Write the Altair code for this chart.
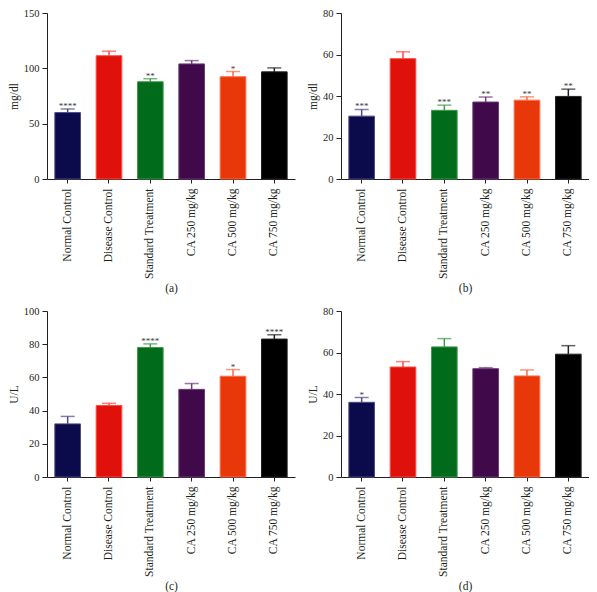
import altair as alt
import pandas as pd

categories = ["Normal Control", "Disease Control", "Standard Treatment",
              "CA 250 mg/kg", "CA 500 mg/kg", "CA 750 mg/kg"]
bar_colors = ["#0b0b4b", "#e0100a", "#006b1a", "#400a4a", "#e8380a", "#000000"]
edge_colors = ["#4a4a86", "#ff4a40", "#3f9a4a", "#6a3a78", "#ff6a45", "#222222"]

a_mean = [60.0, 111.4, 87.9, 104.0, 92.4, 96.8]
a_top = [63.3, 115.5, 90.6, 107.0, 97.1, 100.4]
a_stars = ["****", "", "**", "", "*", ""]

b_mean = [30.3, 58.0, 33.1, 37.1, 38.0, 39.8]
b_top = [33.5, 61.3, 35.6, 39.5, 39.6, 43.3]
b_stars = ["***", "", "***", "**", "**", "**"]

c_mean = [32.0, 43.1, 78.0, 52.8, 60.7, 83.1]
c_top = [36.5, 44.4, 80.2, 56.3, 64.7, 85.7]
c_stars = ["", "", "****", "", "*", "****"]

d_mean = [36.0, 53.0, 62.7, 52.2, 48.7, 59.2]
d_top = [38.3, 55.6, 66.7, 52.7, 51.6, 63.3]
d_stars = ["*", "", "", "", "", ""]

a_ticks = [0, 50, 100, 150]
b_ticks = [0, 20, 40, 60, 80]
c_ticks = [0, 20, 40, 60, 80, 100]
d_ticks = [0, 20, 40, 60, 80]

FONT = "Liberation Serif"
W, H = 248, 166


def panel(mean, top, stars, ticks, ytitle, label):
    df = pd.DataFrame({
        "cat": categories, "mean": mean, "top": top, "stars": stars,
        "fill": bar_colors, "edge": edge_colors,
    })
    ymax = ticks[-1]
    x = alt.X("cat:N", sort=categories,
              scale=alt.Scale(paddingInner=0.38, paddingOuter=0.19),
              axis=alt.Axis(title=label, labelAngle=-90, labelFontSize=11.5,
                            labelPadding=5, tickSize=4, titlePadding=4,
                            titleFontSize=11.5, labelOverlap=False))
    yscale = alt.Scale(domain=[0, ymax], nice=False, zero=True)
    yaxis = alt.Axis(title=ytitle, values=ticks,
                     tickCount=len(ticks) + 2,
                     tickSize=5, labelPadding=3, titlePadding=4,
                     titleFontSize=11.5, labelFontSize=10.5,
                     labelOverlap=False)
    base = alt.Chart(df)
    bars = base.mark_bar(strokeWidth=1).encode(
        x=x,
        y=alt.Y("mean:Q", scale=yscale, axis=yaxis),
        fill=alt.Color("fill:N", scale=None),
        stroke=alt.Color("edge:N", scale=None),
    )
    rule = base.mark_rule(strokeWidth=1.5).encode(
        x=alt.X("cat:N", sort=categories), y="mean:Q", y2="top:Q",
        color=alt.Color("edge:N", scale=None),
    )
    cap = base.mark_tick(size=14, thickness=1.5).encode(
        x=alt.X("cat:N", sort=categories), y="top:Q",
        color=alt.Color("edge:N", scale=None),
    )
    txt = base.mark_text(font=FONT, fontSize=9, baseline="middle", dy=-3,
                         color="#3a3a3a").encode(
        x=alt.X("cat:N", sort=categories), y="top:Q", text="stars:N",
    )
    return alt.layer(bars, rule, cap, txt).properties(width=W, height=H)


pa = panel(a_mean, a_top, a_stars, a_ticks, "mg/dl", "(a)")
pb = panel(b_mean, b_top, b_stars, b_ticks, "mg/dl", "(b)")
pc = panel(c_mean, c_top, c_stars, c_ticks, "U/L", "(c)")
pd_ = panel(d_mean, d_top, d_stars, d_ticks, "U/L", "(d)")

chart = alt.vconcat(
    alt.hconcat(pa, pb, spacing=12),
    alt.hconcat(pc, pd_, spacing=12),
    spacing=11,
).properties(
    padding={"left": 0, "top": 0, "right": 0, "bottom": 0}
).configure_view(stroke=None).configure_axis(
    grid=False, domainColor="#231f20", tickColor="#231f20",
    labelColor="#231f20", titleColor="#231f20",
    labelFont=FONT, titleFont=FONT, titleFontWeight="normal",
)

chart.save("out.html", embed_options={"renderer": "svg", "actions": False})
